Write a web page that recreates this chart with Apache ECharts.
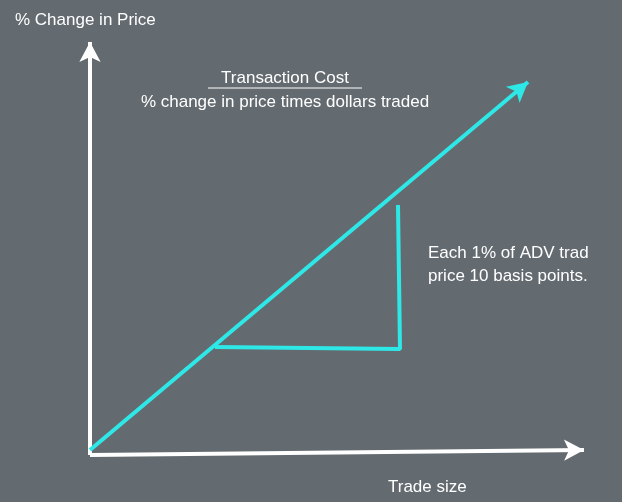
<!DOCTYPE html>
<html><head><meta charset="utf-8">
<script src="https://cdn.jsdelivr.net/npm/echarts@6/dist/echarts.min.js"></script>
<style>html,body{margin:0;padding:0;background:#646b70;}#c{width:622px;height:502px;}</style>
</head><body><div id="c"></div>
<script>
// Diagram coordinates (in a 622x502 reference space)
const yAxisArrow = [[90, 455], [90, 42]];
const xAxisArrow = [[90, 455], [584, 450]];
const costLine = [[90, 450], [528, 82]];
const triangle = [[215, 347], [400, 349], [398, 205]];
const labels = [
  {text: '% Change in Price', x: 15, y: 20, align: 'left'},
  {text: 'Transaction Cost', x: 285, y: 78, align: 'center', underline: true},
  {text: '% change in price times dollars traded', x: 285, y: 102, align: 'center'},
  {text: 'Each 1% of ADV trad', x: 428, y: 253, align: 'left'},
  {text: 'price 10 basis points.', x: 428, y: 276, align: 'left'},
  {text: 'Trade size', x: 388, y: 487, align: 'left'}
];
const chart = echarts.init(document.getElementById('c'));
const white = '#ffffff', cyan = '#2ee8e8';
const ml = (pts, color, w) => ({
  type: 'line', data: [], silent: true,
  markLine: {symbol: ['none', 'arrow'], symbolSize: [16, 20], label: {show: false},
    animation: false, emphasis: {disabled: true},
    lineStyle: {color: color, width: w, type: 'solid'},
    data: [[{coord: pts[0]}, {coord: pts[1]}]]}
});
const graphicTexts = [];
labels.forEach(l => {
  graphicTexts.push({type: 'text', x: l.x, y: l.y,
    style: {text: l.text, fill: white, font: '17px "Liberation Sans", Arial, sans-serif',
      textAlign: l.align, textVerticalAlign: 'middle'}});
  if (l.underline) {
    graphicTexts.push({type: 'line', shape: {x1: l.x - 77, y1: l.y + 10, x2: l.x + 77, y2: l.y + 10},
      style: {stroke: white, lineWidth: 1}});
  }
});
chart.setOption({
  backgroundColor: '#646b70',
  animation: false,
  grid: {left: 0, right: 0, top: 0, bottom: 0},
  xAxis: {type: 'value', min: 0, max: 622, show: false},
  yAxis: {type: 'value', min: 0, max: 502, inverse: true, show: false},
  graphic: graphicTexts,
  series: [
    ml(yAxisArrow, white, 4),
    ml(xAxisArrow, white, 4),
    ml(costLine, cyan, 4),
    {type: 'line', data: triangle, showSymbol: false, silent: true,
      lineStyle: {color: cyan, width: 4}}
  ]
});
</script></body></html>
